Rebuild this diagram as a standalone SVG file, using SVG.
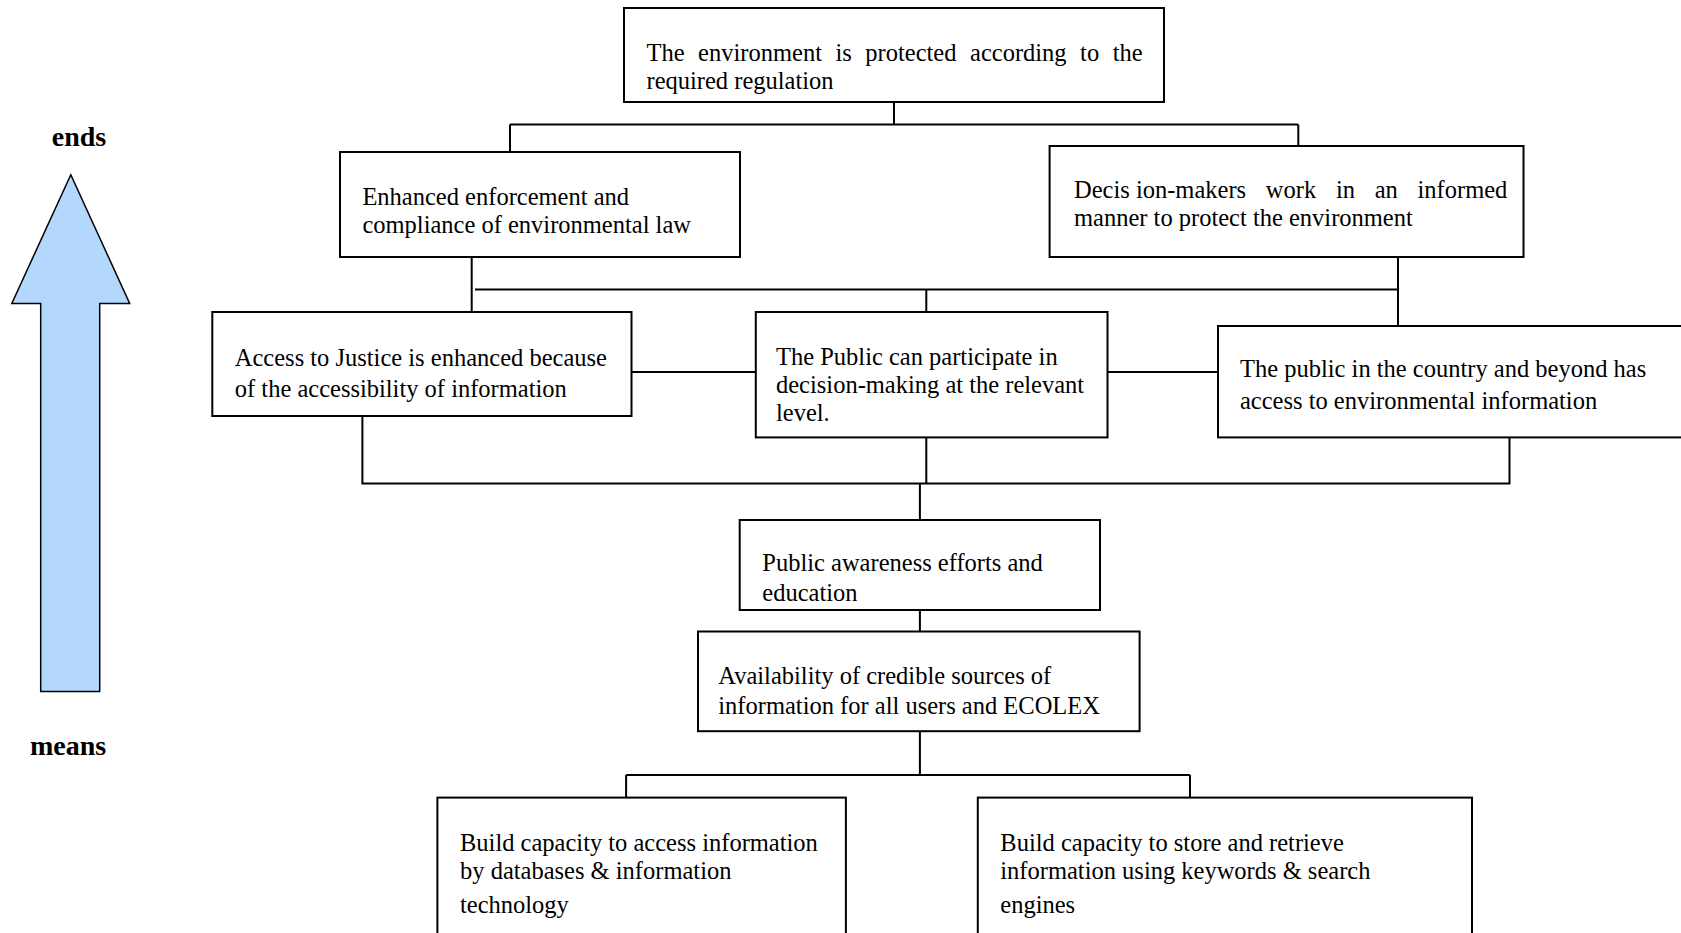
<svg xmlns="http://www.w3.org/2000/svg" width="1681" height="933" viewBox="0 0 1681 933">
  <style>
    .box { fill: #ffffff; stroke: #000000; stroke-width: 2; }
    .lbl { font-family: "Liberation Serif", "Times New Roman", serif; font-size: 24.5px; fill: #000000; }
    .side { font-family: "Liberation Serif", "Times New Roman", serif; font-size: 28px; font-weight: bold; fill: #000000; text-anchor: middle; }
    .wire { fill: none; stroke: #000000; stroke-width: 2; }
  </style>
  <rect width="1681" height="933" fill="#ffffff"/>

  <!-- ends / means direction arrow -->
  <g id="direction">
    <text class="side" x="79" y="145.5">ends</text>
    <polygon points="70.8,174.8 129.7,303.4 99.7,303.4 99.7,691.5 40.7,691.5 40.7,303.4 11.8,303.4" fill="#b3d7fd" stroke="#000000" stroke-width="1.5"/>
    <text class="side" x="68" y="754.5">means</text>
  </g>

  <!-- connectors -->
  <g id="connectors">
    <path class="wire" d="M894,102 V124.4 M510,124.4 H1298.3 M510,124.4 V152 M1298.3,124.4 V146"/>
    <path class="wire" d="M471.7,257 V312 M475,289.5 H1398 M926.3,289.5 V312 M1398,257 V326"/>
    <path class="wire" d="M631.5,372 H755.8 M1107.5,372 H1218"/>
    <path class="wire" d="M362.4,416 V483.5 H1509.5 V437.4 M926.3,437.4 V483.5"/>
    <path class="wire" d="M919.9,483.5 V520 M919.9,610 V631.5 M919.9,731.2 V775.1 M626.1,775.1 H1190 M626.1,775.1 V797.6 M1190,775.1 V797.6"/>
  </g>

  <g id="n-protected">
    <rect class="box" x="624" y="8" width="540" height="94"/>
    <text class="lbl" x="646.5" y="60.5" word-spacing="7.4">The environment is protected according to the</text>
    <text class="lbl" x="646.5" y="88.5">required regulation</text>
  </g>

  <g id="n-enforcement">
    <rect class="box" x="340" y="152" width="400" height="105"/>
    <text class="lbl" x="362.4" y="204.5">Enhanced enforcement and</text>
    <text class="lbl" x="362.4" y="232.5">compliance of environmental law</text>
  </g>

  <g id="n-decision-makers">
    <rect class="box" x="1049.6" y="146" width="473.9" height="111"/>
    <text class="lbl" x="1074" y="197.5">Decis ion-makers<tspan word-spacing="13.6"> work in an informed</tspan></text>
    <text class="lbl" x="1074" y="225.5">manner to protect the environment</text>
  </g>

  <g id="n-justice">
    <rect class="box" x="212.3" y="312" width="419.2" height="104"/>
    <text class="lbl" x="234.8" y="366">Access to Justice is enhanced because</text>
    <text class="lbl" x="234.8" y="397">of the accessibility of information</text>
  </g>

  <g id="n-participation">
    <rect class="box" x="755.8" y="312" width="351.7" height="125.4"/>
    <text class="lbl" x="776" y="364.5">The Public can participate in</text>
    <text class="lbl" x="776" y="392.5">decision-making at the relevant</text>
    <text class="lbl" x="776" y="420.5">level.</text>
  </g>

  <g id="n-access">
    <rect class="box" x="1218" y="326" width="470" height="111.4"/>
    <text class="lbl" x="1240" y="376.5">The public in the country and beyond has</text>
    <text class="lbl" x="1240" y="408.5">access to environmental information</text>
  </g>

  <g id="n-awareness">
    <rect class="box" x="739.7" y="520" width="360.3" height="90"/>
    <text class="lbl" x="762.3" y="570.5">Public awareness efforts and</text>
    <text class="lbl" x="762.3" y="600.5">education</text>
  </g>

  <g id="n-sources">
    <rect class="box" x="698" y="631.5" width="441.6" height="99.7"/>
    <text class="lbl" x="718.3" y="683.5">Availability of credible sources of</text>
    <text class="lbl" x="718.3" y="713.5">information for all users and ECOLEX</text>
  </g>

  <g id="n-databases">
    <rect class="box" x="437.4" y="797.6" width="408.5" height="150"/>
    <text class="lbl" x="460" y="850.5">Build capacity to access information</text>
    <text class="lbl" x="460" y="878.5">by databases &amp; information</text>
    <text class="lbl" x="460" y="912.5">technology</text>
  </g>

  <g id="n-keywords">
    <rect class="box" x="977.8" y="797.6" width="494.2" height="150"/>
    <text class="lbl" x="1000.3" y="850.5">Build capacity to store and retrieve</text>
    <text class="lbl" x="1000.3" y="878.5">information using keywords &amp; search</text>
    <text class="lbl" x="1000.3" y="912.5">engines</text>
  </g>
</svg>
